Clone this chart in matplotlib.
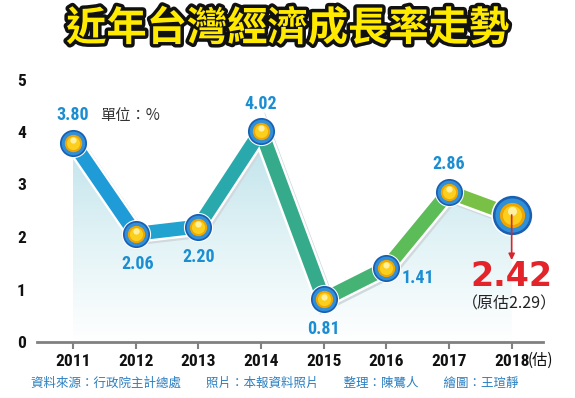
import matplotlib
matplotlib.use("Agg")
import matplotlib.pyplot as plt
import matplotlib.patheffects as pe
import matplotlib.transforms as mtransforms
from matplotlib.colors import LinearSegmentedColormap
from matplotlib.patches import Polygon
from matplotlib import font_manager
import numpy as np

plt.rcParams['font.family'] = ['Noto Sans CJK TC', 'DejaVu Sans']

years = ["2011", "2012", "2013", "2014", "2015", "2016", "2017", "2018"]
values = [3.80, 2.06, 2.20, 4.02, 0.81, 1.41, 2.86, 2.42]
value_labels = ["3.80", "2.06", "2.20", "4.02", "0.81", "1.41", "2.86", "2.42"]
yticks = [0, 1, 2, 3, 4, 5]
seg_colors = ["#1f9bd8", "#22a3cf", "#2aa9ad", "#35ab8c", "#44b374", "#5cbc58", "#78c146"]
title = "近年台灣經濟成長率走勢"
unit_text = "單位：%"
est_mark = "(估)"
orig_est = "（原估2.29）"
source = "資料來源：行政院主計總處　　照片：本報資料照片　　整理：陳鷺人　　繪圖：王瑄靜"

# pick a condensed bold face if one is installed
names = {f.name for f in font_manager.fontManager.ttflist}
narrow_fam = None
for cand in ['Liberation Sans Narrow', 'Roboto Condensed', 'Open Sans Condensed', 'DejaVu Sans Condensed']:
    if cand in names:
        narrow_fam = cand
        break
cond_dejavu = any(f.name == 'DejaVu Sans' and f.stretch == 'condensed' for f in font_manager.fontManager.ttflist)
if narrow_fam is None:
    narrow_fam = 'DejaVu Sans'
NSTRETCH = 'condensed' if (narrow_fam == 'DejaVu Sans' and cond_dejavu) else 'normal'
NW = 'bold'

def nfont(size, weight=NW):
    return dict(family=[narrow_fam, 'DejaVu Sans'], fontsize=size, fontweight=weight,
                fontstretch=NSTRETCH)

W, H = 575, 398
fig = plt.figure(figsize=(W / 100, H / 100), dpi=100)
ax = fig.add_axes([37 / W, 56 / H, 506 / W, 288.75 / H])
x = np.arange(len(values))
ax.set_xlim(-0.575, 7.5)
ax.set_ylim(0, 5.5)

# gradient fill under the line
poly = Polygon(np.column_stack([np.r_[x, x[-1], x[0]], np.r_[values, 0, 0]]),
               closed=True, facecolor='none', edgecolor='none')
ax.add_patch(poly)
grad = np.linspace(0, 1, 256).reshape(-1, 1)
cmap = LinearSegmentedColormap.from_list("g", ["#ffffff", "#e0f2f5", "#bbe1ea"])
im = ax.imshow(grad, extent=[x[0], x[-1], 0, 4.1], origin='lower', cmap=cmap,
               aspect='auto', zorder=1)
im.set_clip_path(poly)

# line with white outline and shadow
shadow = ax.transData + mtransforms.ScaledTranslation(1.5 / 100, -2 / 100, fig.dpi_scale_trans)
ax.plot(x, values, color='#cfd9de', lw=13.5, solid_joinstyle='miter', zorder=2, transform=shadow)
ax.plot(x, values, color='white', lw=13.5, solid_joinstyle='miter', zorder=3)
for i in range(len(values) - 1):
    ax.plot(x[i:i + 2], values[i:i + 2], color=seg_colors[i], lw=10,
            solid_capstyle='round', zorder=4)

# markers
sizes = [1.0] * 7 + [1.45]
for xi, yi, s in zip(x, values, sizes):
    ax.scatter([xi], [yi], s=(21 * s) ** 2, color='white', zorder=5, linewidths=0)
    ax.scatter([xi], [yi], s=(19.5 * s) ** 2, color='#1a5fb0', zorder=6, linewidths=0)
    ax.scatter([xi], [yi], s=(17 * s) ** 2, color='#2f8fd8', zorder=6, linewidths=0)
    ax.scatter([xi], [yi], s=(12.5 * s) ** 2, color='#f0a600', zorder=7, linewidths=0)
    ax.scatter([xi], [yi], s=(9.5 * s) ** 2, color='#fbcf1e', zorder=7, linewidths=0)
    ax.scatter([xi], [yi + 0.05 * s], s=(4.5 * s) ** 2, color='#fff0a0', zorder=7, linewidths=0)

# value labels
offsets = [(0, 28), (2, -30), (0, -30), (0, 27), (0, -30), (32, -10), (0, 28)]
for i in range(7):
    ax.annotate(value_labels[i], (x[i], values[i]), xytext=offsets[i],
                textcoords='offset pixels', ha='center', va='center',
                color='#1b8ed2', zorder=8, **nfont(13))

# 2018 estimate
ax.annotate("", xy=(x[7], values[7] - 0.86), xytext=(x[7], values[7]),
            arrowprops=dict(arrowstyle='-|>', color='#d9252a', lw=1.2,
                            mutation_scale=9, shrinkA=0, shrinkB=0), zorder=9)
ax.annotate(value_labels[7], (x[7], values[7]), xytext=(0, -62),
            textcoords='offset pixels', ha='center', va='center',
            fontsize=24, fontweight='bold', color='#e3242b', zorder=8,
            family=['DejaVu Sans'])
ax.annotate(orig_est, (x[7], values[7]), xytext=(-2, -89),
            textcoords='offset pixels', ha='center', va='center',
            fontsize=11.5, color='#222222', zorder=8)

ax.annotate(unit_text, (x[0], values[0]), xytext=(57, 27),
            textcoords='offset pixels', ha='center', va='center',
            fontsize=11, color='#333333')

# axes styling
for s in ['top', 'right', 'left']:
    ax.spines[s].set_visible(False)
ax.spines['bottom'].set_color('#808080')
ax.spines['bottom'].set_linewidth(2)
ax.set_xticks(x)
ax.set_xticklabels(years)
ax.set_yticks(yticks)
ax.set_yticklabels([str(t) for t in yticks])
ax.tick_params(axis='x', length=5, width=1.5, color='#808080', pad=4)
ax.tick_params(axis='y', length=0, pad=8)
for lab in ax.get_xticklabels() + ax.get_yticklabels():
    lab.set_fontfamily([narrow_fam, 'DejaVu Sans'])
    lab.set_fontstretch(NSTRETCH)
    lab.set_fontweight('bold')
    lab.set_fontsize(12.5)
    lab.set_color('#111111')
ax.annotate(est_mark, (x[7], 0), xytext=(29, -18), textcoords='offset pixels',
            ha='center', va='center', fontsize=11, color='#111111',
            annotation_clip=False)

# title
fig.text(0.5, 1 - 29 / H, title, ha='center', va='center', fontsize=29,
         fontweight='heavy', color='#ffea00',
         path_effects=[pe.withSimplePatchShadow(offset=(2, -2), shadow_rgbFace='#999999', alpha=0.8),
                       pe.withStroke(linewidth=5, foreground='#111111')])

fig.text(275 / W, 1 - 383 / H, source, ha='center', va='center',
         fontsize=9, color='#2a7fc0')

fig.savefig("out.png", dpi=100)
